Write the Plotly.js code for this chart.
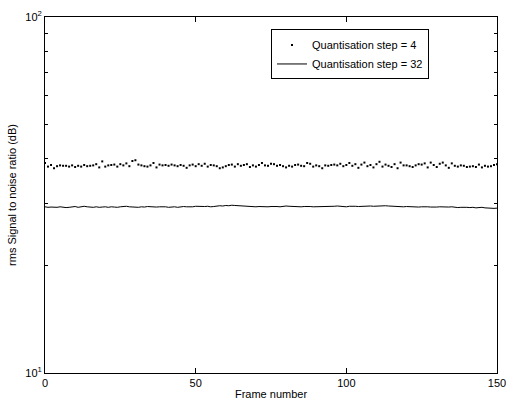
<!DOCTYPE html>
<html>
<head>
<meta charset="utf-8">
<script src="https://cdn.plot.ly/plotly-3.0.1.min.js"></script>
<style>html,body{margin:0;padding:0;background:#fff;}#chart{width:509px;height:400px;}</style>
</head>
<body>
<div id="chart"></div>
<script>
// Frame numbers 0..150
const frames = [];
for (let i = 0; i <= 150; i++) frames.push(i);

// rms SNR (dB), quantisation step = 4 (dotted)
const snrStep4 = [
  38.9, 38.0, 38.4, 37.6, 38.1, 38.3, 38.2, 38.2, 38.0, 38.3,
  37.9, 38.2, 38.0, 38.4, 38.1, 38.2, 38.3, 38.6, 37.8, 39.3,
  38.0, 38.3, 38.4, 38.5, 38.0, 38.6, 38.3, 38.8, 38.1, 39.4,
  39.6, 38.5, 38.3, 38.1, 38.0, 38.3, 38.9, 37.8, 38.5, 38.3,
  38.4, 38.2, 38.5, 38.3, 38.1, 38.4, 38.2, 37.7, 38.3, 38.5,
  38.1, 38.6, 38.2, 38.7, 38.0, 38.4, 38.3, 38.1, 37.6, 37.8,
  38.1, 38.4, 38.5, 38.0, 38.6, 38.2, 38.4, 38.6, 37.9, 38.3,
  38.0, 38.4, 38.9, 38.3, 38.2, 38.7, 38.6, 38.2, 38.4, 38.1,
  37.8, 38.2, 38.0, 38.4, 38.5, 38.2, 38.1, 38.9, 38.7, 38.0,
  38.3, 38.1, 37.6, 38.3, 38.2, 38.4, 38.5, 38.3, 38.7, 38.1,
  38.4, 38.9, 38.2, 38.6, 37.7, 38.5, 39.0, 38.1, 38.4, 37.8,
  38.6, 39.2, 38.0, 38.5, 38.2, 37.9, 38.6, 37.6, 39.0, 38.3,
  38.3, 38.1, 37.9, 38.3, 38.6, 38.5, 38.8, 37.8, 39.0, 38.4,
  37.9, 38.7, 39.0, 38.3, 37.7, 38.8, 38.2, 38.0, 38.3, 38.2,
  37.9, 38.0, 38.1, 37.9, 38.5, 37.8, 38.2, 38.0, 38.1, 38.4, 38.6
];

// rms SNR (dB), quantisation step = 32 (solid)
const snrStep32 = [
  29.3, 29.2, 29.25, 29.2, 29.2, 29.3, 29.2, 29.15, 29.2, 29.25,
  29.35, 29.2, 29.3, 29.4, 29.3, 29.25, 29.2, 29.3, 29.2, 29.25,
  29.3, 29.2, 29.3, 29.25, 29.2, 29.3, 29.35, 29.4, 29.3, 29.25,
  29.3, 29.2, 29.3, 29.25, 29.35, 29.3, 29.2, 29.25, 29.3, 29.35,
  29.3, 29.2, 29.25, 29.3, 29.2, 29.3, 29.35, 29.3, 29.25, 29.3,
  29.4, 29.35, 29.3, 29.35, 29.4, 29.3, 29.35, 29.45, 29.5, 29.45,
  29.55, 29.5, 29.6, 29.55, 29.5, 29.55, 29.5, 29.45, 29.4, 29.35,
  29.3, 29.35, 29.3, 29.25, 29.3, 29.35, 29.4, 29.35, 29.3, 29.4,
  29.45, 29.4, 29.35, 29.3, 29.35, 29.3, 29.35, 29.4, 29.35, 29.3,
  29.3, 29.35, 29.3, 29.4, 29.35, 29.3, 29.4, 29.45, 29.4, 29.35,
  29.3, 29.4, 29.45, 29.4, 29.35, 29.4, 29.45, 29.5, 29.45, 29.4,
  29.45, 29.5, 29.55, 29.5, 29.45, 29.4, 29.35, 29.4, 29.35, 29.3,
  29.35, 29.3, 29.25, 29.3, 29.25, 29.3, 29.35, 29.3, 29.25, 29.2,
  29.25, 29.3, 29.25, 29.2, 29.25, 29.3, 29.2, 29.15, 29.2, 29.25,
  29.2, 29.15, 29.2, 29.1, 29.15, 29.2, 29.1, 29.05, 29.1, 29.0, 29.05
];

const seriesNames = ['Quantisation step = 4', 'Quantisation step = 32'];
const xTickVals = [0, 50, 100, 150];
const yTickVals = [10, 100];
const yTickText = ['10<sup>1</sup>', '10<sup>2</sup>'];
const yMinorVals = [20, 30, 40, 50, 60, 70, 80, 90];

const traces = [
  {
    x: frames, y: snrStep4, name: seriesNames[0],
    type: 'scatter', mode: 'markers',
    marker: {symbol: 'square', size: 2, color: '#000'}
  },
  {
    x: frames, y: snrStep32, name: seriesNames[1],
    type: 'scatter', mode: 'lines',
    line: {color: '#000', width: 1}
  }
];

const font = {family: 'Liberation Sans, Arial, sans-serif', size: 11, color: '#000'};

const layout = {
  width: 509, height: 400,
  margin: {l: 45, r: 12, t: 17, b: 27},
  paper_bgcolor: '#fff', plot_bgcolor: '#fff',
  font: font,
  showlegend: true,
  legend: {
    x: 0.5, xanchor: 'left', y: 0.965, yanchor: 'top',
    bgcolor: '#fff', bordercolor: '#000', borderwidth: 1,
    font: font, tracegroupgap: 0, itemwidth: 30,
    entrywidth: 185, entrywidthmode: 'pixels'
  },
  xaxis: {
    range: [0, 150], tickvals: xTickVals, ticktext: xTickVals.map(String),
    ticks: 'inside', ticklen: 5, tickcolor: '#000', tickwidth: 1,
    showline: true, linecolor: '#000', linewidth: 1, mirror: 'ticks',
    showgrid: false, zeroline: false,
    title: {text: 'Frame number', font: font, standoff: 2},
    tickfont: font
  },
  yaxis: {
    type: 'log', range: [1, 2],
    tickvals: yTickVals, ticktext: yTickText,
    ticks: 'inside', ticklen: 5, tickcolor: '#000', tickwidth: 1,
    minor: {tickvals: yMinorVals, ticks: 'inside', ticklen: 3, tickcolor: '#000', showgrid: false},
    showline: true, linecolor: '#000', linewidth: 1, mirror: 'ticks',
    showgrid: false, zeroline: false,
    title: {text: 'rms Signal to noise ratio (dB)', font: font, standoff: 6},
    tickfont: font
  }
};

Plotly.newPlot('chart', traces, layout, {displayModeBar: false, staticPlot: true});
</script>
</body>
</html>
